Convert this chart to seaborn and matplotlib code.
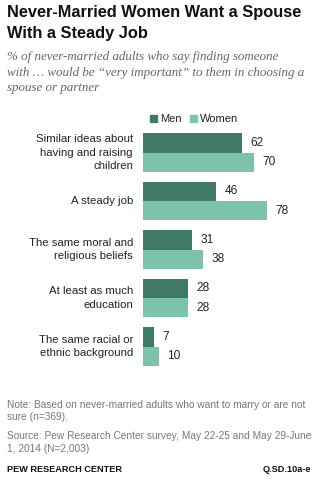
import matplotlib
matplotlib.use("Agg")
import matplotlib.pyplot as plt
import seaborn as sns
import pandas as pd

categories = [
    "Similar ideas about\nhaving and raising\nchildren",
    "A steady job",
    "The same moral and\nreligious beliefs",
    "At least as much\neducation",
    "The same racial or\nethnic background",
]
men = [62, 46, 31, 28, 7]
women = [70, 78, 38, 28, 10]
groups = ["Men", "Women"]
colors = ["#3f7a67", "#7cc2ad"]

df = pd.DataFrame({
    "category": categories * 2,
    "value": men + women,
    "group": [groups[0]] * len(categories) + [groups[1]] * len(categories),
})

sns.set_theme(style="white")
plt.rcParams["font.family"] = ["Liberation Sans", "DejaVu Sans"]

W, H = 321, 483
fig = plt.figure(figsize=(W / 100, H / 100), dpi=100)

# axes placed in pixel terms
x0, x1 = 143, 143 + 1.59 * 100
y_top, y_bot = 128.25, 370.75
ax = fig.add_axes([x0 / W, 1 - y_bot / H, (x1 - x0) / W, (y_bot - y_top) / H])

sns.barplot(data=df, y="category", x="value", hue="group", orient="h",
            palette=colors, width=0.8, ax=ax, legend=False, saturation=1,
            edgecolor="none")
ax.set_xlim(0, 100)
ax.set_ylim(4.5, -0.5)
ax.set_xlabel("")
ax.set_ylabel("")
ax.set_xticks([])
ax.set_yticks([])
for s in ax.spines.values():
    s.set_visible(False)

# category labels
for i, c in enumerate(categories):
    ax.text(-6.3, i, c, ha="right", va="center", fontsize=8.2,
            color="#222222", linespacing=1.42)

# value labels
for cont in ax.containers:
    for bar in cont:
        v = bar.get_width()
        ax.text(v + 5.3, bar.get_y() + bar.get_height() / 2, f"{v:.0f}",
                ha="left", va="center", fontsize=8.6, color="#222222")

def px(x, y):
    return x / W, 1 - y / H

# title
fig.text(*px(7, 5.5), "Never-Married Women Want a Spouse\nWith a Steady Job",
         ha="left", va="top", fontsize=11.8, fontweight="bold",
         color="#111111", linespacing=1.45)
# subtitle
fig.text(*px(7, 51), "% of never-married adults who say finding someone\n"
         "with \u2026 would be \u201cvery important\u201d to them in choosing a\n"
         "spouse or partner",
         ha="left", va="top", fontsize=9.4, style="italic",
         family=["Liberation Serif", "DejaVu Serif"], color="#666666",
         linespacing=1.4)

# legend
for i, (g, c, lx) in enumerate(zip(groups, colors, [150, 190])):
    fig.patches.append(plt.Rectangle(px(lx, 122), 7 / W, 7 / H,
                                     transform=fig.transFigure,
                                     color=c, figure=fig))
    fig.text(*px(lx + 10, 118.5), g, ha="left", va="center",
             fontsize=8.0, color="#222222")

# notes
fig.text(*px(7, 399.5), "Note: Based on never-married adults who want to marry or are not\n"
         "sure (n=369).", ha="left", va="top", fontsize=7.3,
         color="#777777", linespacing=1.35)
fig.text(*px(7, 431), "Source: Pew Research Center survey, May 22-25 and May 29-June\n"
         "1, 2014 (N=2,003)", ha="left", va="top", fontsize=7.3,
         color="#777777", linespacing=1.35)
fig.text(*px(7, 469), "PEW RESEARCH CENTER", ha="left", va="center",
         fontsize=6.6, fontweight="bold", color="#111111")
fig.text(*px(311, 469), "Q.SD.10a-e", ha="right", va="center",
         fontsize=6.6, fontweight="bold", color="#111111")

fig.savefig("out.png", dpi=100, facecolor="white")
